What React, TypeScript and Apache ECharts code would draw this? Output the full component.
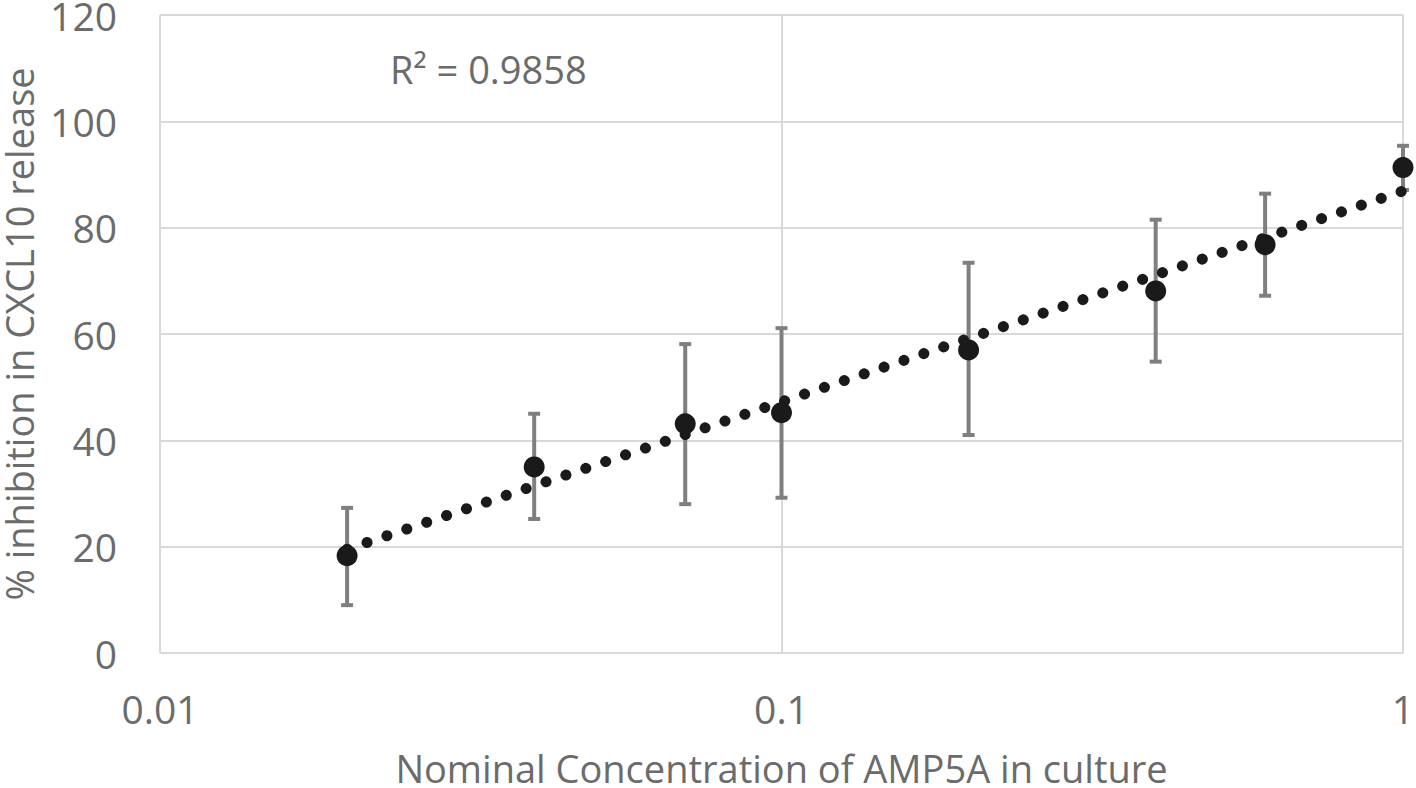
import React, { useEffect, useRef } from "react";
import * as echarts from "echarts";

const concentrations = [0.02, 0.04, 0.07, 0.1, 0.2, 0.4, 0.6, 1];
const inhibition = [18.3, 35.0, 43.1, 45.2, 57.0, 68.1, 76.8, 91.3];
const errUpper = [27.3, 45.0, 58.1, 61.1, 73.4, 81.5, 86.4, 95.4];
const errLower = [9.0, 25.2, 28.0, 29.2, 41.0, 54.8, 67.2, 87.1];
const trendX = [0.02, 1];
const trendY = [19.5, 86.9];
const rSquaredLabel = "R\u00b2 = 0.9858";
const xTitle = "Nominal Concentration of AMP5A in culture";
const yTitle = "% inhibition in CXCL10 release";

const FONT = "'Open Sans', 'Liberation Sans', sans-serif";
const TXT = "#6b6b6b";

export default function App() {
  const ref = useRef<HTMLDivElement>(null);
  useEffect(() => {
    if (!ref.current) return;
    const chart = echarts.init(ref.current, null, { renderer: "svg" });
    const errData = concentrations.map((c, i) => [c, errLower[i], errUpper[i]]);
    chart.setOption({
      animation: false,
      backgroundColor: "#ffffff",
      textStyle: { fontFamily: FONT },
      grid: { left: 160, right: 13, top: 15, bottom: 135, outerBoundsMode: "none", containLabel: false },
      xAxis: {
        type: "log",
        logBase: 10,
        min: 0.01,
        max: 1,
        name: xTitle,
        nameLocation: "middle",
        nameGap: 100,
        nameTextStyle: { fontSize: 38, color: TXT, fontFamily: FONT, lineHeight: 30 },
        axisLine: { show: false },
        axisTick: { show: false },
        axisLabel: {
          fontSize: 39,
          color: TXT,
          margin: 40,
          fontFamily: FONT,
          lineHeight: 30,
          formatter: (v: number) => String(+v.toPrecision(3)),
        },
        splitLine: { show: true, lineStyle: { color: "#d9d9d9", width: 2 } },
      },
      yAxis: {
        type: "value",
        min: 0,
        max: 120,
        interval: 20,
        name: yTitle,
        nameLocation: "middle",
        nameGap: 126,
        nameTextStyle: { fontSize: 38, color: TXT, fontFamily: FONT, lineHeight: 30 },
        axisLine: { show: false },
        axisTick: { show: false },
        axisLabel: { fontSize: 39, color: TXT, margin: 43, fontFamily: FONT, lineHeight: 30 },
        splitLine: { show: true, lineStyle: { color: "#d9d9d9", width: 2 } },
      },
      graphic: [
        {
          type: "text",
          left: 390,
          top: 50,
          style: { text: rSquaredLabel, fontSize: 38, fill: TXT, fontFamily: FONT },
        },
      ],
      series: [
        {
          type: "custom",
          z: 2,
          data: errData,
          renderItem: (params: any, api: any) => {
            const x = api.value(0);
            const lo = api.coord([x, api.value(1)]);
            const hi = api.coord([x, api.value(2)]);
            const hw = 6;
            const style = { stroke: "#7f7f7f", lineWidth: 4 };
            return {
              type: "group",
              children: [
                { type: "line", shape: { x1: lo[0], y1: lo[1], x2: hi[0], y2: hi[1] }, style },
                { type: "line", shape: { x1: hi[0] - hw, y1: hi[1], x2: hi[0] + hw, y2: hi[1] }, style },
                { type: "line", shape: { x1: lo[0] - hw, y1: lo[1], x2: lo[0] + hw, y2: lo[1] }, style },
              ],
            };
          },
        },
        {
          type: "scatter",
          z: 3,
          symbol: "circle",
          symbolSize: 21,
          itemStyle: { color: "#1a1a1a", opacity: 1 },
          data: concentrations.map((c, i) => [c, inhibition[i]]),
        },
        {
          type: "line",
          z: 4,
          symbol: "none",
          data: trendX.map((c, i) => [c, trendY[i]]),
          lineStyle: { color: "#1a1a1a", width: 11, type: [0.1, 20.9], cap: "round" },
        },
      ],
    });
    return () => chart.dispose();
  }, []);
  return (
    <div
      ref={ref}
      style={{ position: "fixed", left: 0, top: 0, width: 1416, height: 788, background: "#fff" }}
    />
  );
}
